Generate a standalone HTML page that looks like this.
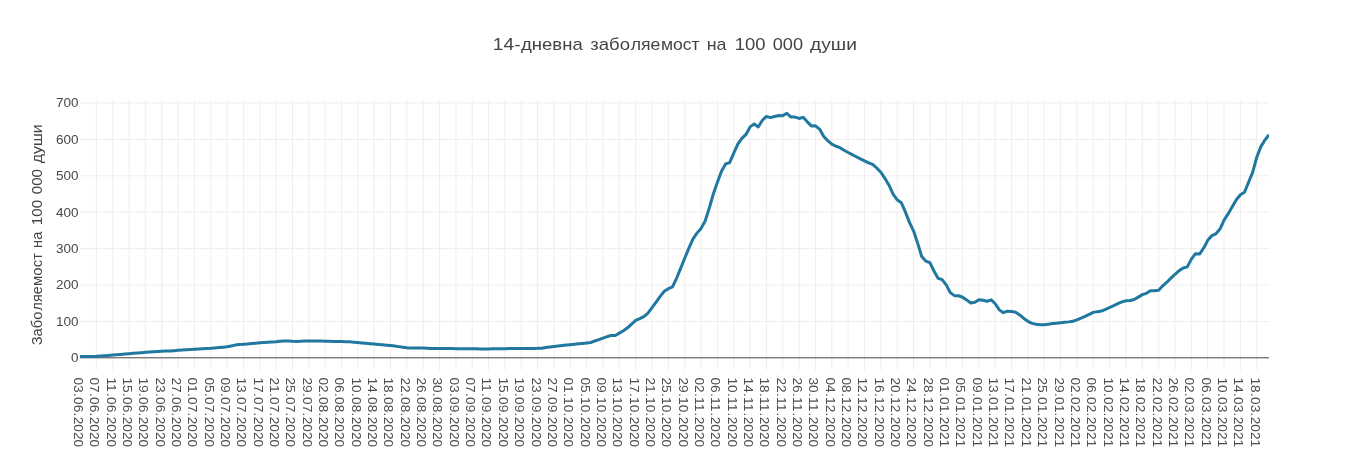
<!DOCTYPE html>
<html><head><meta charset="utf-8"><title>chart</title>
<style>
html,body{margin:0;padding:0;background:#fff;overflow:hidden}
svg{display:block;will-change:transform;transform:translateZ(0)}
text{font-family:"Liberation Sans",sans-serif;fill:#444444}
#xt text{fill:#4d4d4d}
#yt text{fill:#494949}
</style></head><body>
<svg width="1349" height="450" viewBox="0 0 1349 450">
<rect width="1349" height="450" fill="#fff"/>
<g fill="none" stroke="#eeeeee" stroke-width="1" id="grid">
<path d="M96.34,100V370M112.69,100V370M129.03,100V370M145.37,100V370M161.72,100V370M178.06,100V370M194.41,100V370M210.75,100V370M227.09,100V370M243.44,100V370M259.78,100V370M276.12,100V370M292.47,100V370M308.81,100V370M325.15,100V370M341.50,100V370M357.84,100V370M374.19,100V370M390.53,100V370M406.87,100V370M423.22,100V370M439.56,100V370M455.90,100V370M472.25,100V370M488.59,100V370M504.93,100V370M521.28,100V370M537.62,100V370M553.97,100V370M570.31,100V370M586.65,100V370M603.00,100V370M619.34,100V370M635.68,100V370M652.03,100V370M668.37,100V370M684.71,100V370M701.06,100V370M717.40,100V370M733.75,100V370M750.09,100V370M766.43,100V370M782.78,100V370M799.12,100V370M815.46,100V370M831.81,100V370M848.15,100V370M864.49,100V370M880.84,100V370M897.18,100V370M913.53,100V370M929.87,100V370M946.21,100V370M962.56,100V370M978.90,100V370M995.24,100V370M1011.59,100V370M1027.93,100V370M1044.27,100V370M1060.62,100V370M1076.96,100V370M1093.31,100V370M1109.65,100V370M1125.99,100V370M1142.34,100V370M1158.68,100V370M1175.02,100V370M1191.37,100V370M1207.71,100V370M1224.05,100V370M1240.40,100V370M1256.74,100V370"/>
<path d="M80,321.40H1269M80,285.00H1269M80,248.60H1269M80,212.20H1269M80,175.80H1269M80,139.40H1269M80,103.00H1269"/>
</g>
<path id="zero" d="M80,357.80H1269" stroke="#444444" stroke-width="1" fill="none"/>
<clipPath id="clip"><rect x="80" y="100" width="1189" height="270"/></clipPath>
<path id="curve" clip-path="url(#clip)" d="M80.00,356.60L84.09,356.53L88.17,356.45L92.26,356.38L96.34,356.31L100.43,356.02L104.52,355.71L108.60,355.41L112.69,355.10L116.77,354.75L120.86,354.40L124.95,354.05L129.03,353.70L133.12,353.35L137.20,353.00L141.29,352.64L145.37,352.30L149.46,352.04L153.55,351.78L157.63,351.53L161.72,351.28L165.80,351.12L169.89,350.95L173.98,350.63L178.06,350.30L182.15,350.05L186.23,349.79L190.32,349.54L194.41,349.29L198.49,349.04L202.58,348.80L206.66,348.55L210.75,348.30L214.84,347.92L218.92,347.54L223.01,347.17L227.09,346.78L231.18,345.95L235.26,345.11L239.35,344.56L243.44,344.29L247.52,343.92L251.61,343.55L255.69,343.19L259.78,342.82L263.87,342.56L267.95,342.30L272.04,342.05L276.12,341.78L280.21,341.23L284.30,340.90L288.38,340.93L292.47,341.30L296.55,341.41L300.64,341.20L304.73,341.00L308.81,340.90L312.90,340.90L316.98,340.90L321.07,340.96L325.15,341.21L329.24,341.34L333.33,341.40L337.41,341.46L341.50,341.55L345.58,341.70L349.67,341.84L353.76,342.17L357.84,342.51L361.93,342.91L366.01,343.30L370.10,343.70L374.19,344.09L378.27,344.44L382.36,344.79L386.44,345.14L390.53,345.49L394.62,346.05L398.70,346.62L402.79,347.19L406.87,347.75L410.96,348.01L415.04,348.02L419.13,348.04L423.22,348.05L427.30,348.32L431.39,348.51L435.47,348.53L439.56,348.56L443.65,348.59L447.73,348.61L451.82,348.62L455.90,348.63L459.99,348.65L464.08,348.66L468.16,348.67L472.25,348.69L476.33,348.73L480.42,348.89L484.51,348.89L488.59,348.88L492.68,348.87L496.76,348.86L500.85,348.83L504.93,348.72L509.02,348.61L513.11,348.58L517.19,348.55L521.28,348.53L525.36,348.51L529.45,348.46L533.54,348.40L537.62,348.34L541.71,348.16L545.79,347.57L549.88,346.99L553.97,346.43L558.05,345.99L562.14,345.55L566.22,345.11L570.31,344.67L574.40,344.22L578.48,343.77L582.57,343.39L586.65,343.07L590.74,342.52L594.82,340.97L598.91,339.56L603.00,338.07L607.08,336.60L611.17,335.53L615.25,335.45L619.34,333.11L623.43,330.68L627.51,327.77L631.60,324.03L635.68,320.42L639.77,318.58L643.86,316.60L647.94,313.13L652.03,307.66L656.11,302.14L660.20,296.37L664.29,291.28L668.37,288.66L672.46,286.83L676.54,278.28L680.63,268.31L684.71,258.29L688.80,248.39L692.89,239.13L696.97,233.13L701.06,228.40L705.14,220.98L709.23,208.27L713.32,194.00L717.40,182.37L721.49,171.17L725.57,164.00L729.66,162.66L733.75,153.06L737.83,144.01L741.92,138.44L746.00,134.44L750.09,126.87L754.18,124.07L758.26,126.92L762.35,120.24L766.43,116.41L770.52,117.64L774.60,116.45L778.69,115.45L782.78,115.65L786.86,113.27L790.95,117.10L795.03,117.06L799.12,118.44L803.21,117.36L807.29,121.84L811.38,125.93L815.46,125.85L819.55,129.11L823.64,136.19L827.72,140.66L831.81,144.21L835.89,146.25L839.98,147.71L844.07,150.27L848.15,152.49L852.24,154.67L856.32,156.75L860.41,158.83L864.49,160.92L868.58,162.89L872.67,164.38L876.75,168.00L880.84,172.21L884.92,178.34L889.01,185.16L893.10,194.07L897.18,199.80L901.27,202.72L905.35,211.92L909.44,222.34L913.53,230.81L917.61,243.10L921.70,256.51L925.78,261.02L929.87,262.71L933.96,271.02L938.04,278.21L942.13,279.59L946.21,284.87L950.30,292.58L954.38,295.66L958.47,295.77L962.56,297.22L966.64,299.91L970.73,302.93L974.81,302.26L978.90,299.85L982.99,300.20L987.07,301.22L991.16,299.81L995.24,303.71L999.33,309.88L1003.42,312.64L1007.50,311.16L1011.59,311.58L1015.67,312.20L1019.76,314.88L1023.85,318.46L1027.93,321.32L1032.02,323.41L1036.10,324.33L1040.19,324.66L1044.27,324.73L1048.36,324.15L1052.45,323.61L1056.53,323.15L1060.62,322.70L1064.70,322.28L1068.79,321.87L1072.88,321.22L1076.96,319.89L1081.05,318.15L1085.13,316.44L1089.22,314.44L1093.31,312.40L1097.39,311.64L1101.48,311.09L1105.56,309.41L1109.65,307.50L1113.74,305.59L1117.82,303.65L1121.91,301.85L1125.99,300.74L1130.08,300.53L1134.16,299.53L1138.25,297.11L1142.34,294.61L1146.42,293.35L1150.51,290.81L1154.59,290.65L1158.68,290.24L1162.77,285.79L1166.85,282.20L1170.94,278.19L1175.02,274.27L1179.11,270.71L1183.20,267.95L1187.28,266.91L1191.37,259.11L1195.45,253.65L1199.54,254.08L1203.63,248.23L1207.71,240.32L1211.80,235.70L1215.88,233.82L1219.97,229.09L1224.05,220.07L1228.14,213.95L1232.23,206.80L1236.31,199.72L1240.40,194.75L1244.48,192.24L1248.57,182.22L1252.66,172.43L1256.74,157.24L1260.83,146.64L1264.91,140.07L1269.00,134.65" fill="none" stroke="#20779f" stroke-width="3" stroke-linejoin="round" stroke-linecap="butt"/>
<g id="xt" font-size="12.4">
<text transform="translate(73.90,377.4) rotate(90) scale(1.1064,1)"><tspan x="0">03</tspan><tspan x="13.991">.</tspan><tspan x="17.742">06</tspan><tspan x="31.734">.</tspan><tspan x="35.485">2020</tspan></text>
<text transform="translate(90.24,377.4) rotate(90) scale(1.1064,1)"><tspan x="0">07</tspan><tspan x="13.991">.</tspan><tspan x="17.742">06</tspan><tspan x="31.734">.</tspan><tspan x="35.485">2020</tspan></text>
<text transform="translate(106.59,377.4) rotate(90) scale(1.1064,1)"><tspan x="0">11</tspan><tspan x="13.991">.</tspan><tspan x="17.742">06</tspan><tspan x="31.734">.</tspan><tspan x="35.485">2020</tspan></text>
<text transform="translate(122.93,377.4) rotate(90) scale(1.1064,1)"><tspan x="0">15</tspan><tspan x="13.991">.</tspan><tspan x="17.742">06</tspan><tspan x="31.734">.</tspan><tspan x="35.485">2020</tspan></text>
<text transform="translate(139.27,377.4) rotate(90) scale(1.1064,1)"><tspan x="0">19</tspan><tspan x="13.991">.</tspan><tspan x="17.742">06</tspan><tspan x="31.734">.</tspan><tspan x="35.485">2020</tspan></text>
<text transform="translate(155.62,377.4) rotate(90) scale(1.1064,1)"><tspan x="0">23</tspan><tspan x="13.991">.</tspan><tspan x="17.742">06</tspan><tspan x="31.734">.</tspan><tspan x="35.485">2020</tspan></text>
<text transform="translate(171.96,377.4) rotate(90) scale(1.1064,1)"><tspan x="0">27</tspan><tspan x="13.991">.</tspan><tspan x="17.742">06</tspan><tspan x="31.734">.</tspan><tspan x="35.485">2020</tspan></text>
<text transform="translate(188.31,377.4) rotate(90) scale(1.1064,1)"><tspan x="0">01</tspan><tspan x="13.991">.</tspan><tspan x="17.742">07</tspan><tspan x="31.734">.</tspan><tspan x="35.485">2020</tspan></text>
<text transform="translate(204.65,377.4) rotate(90) scale(1.1064,1)"><tspan x="0">05</tspan><tspan x="13.991">.</tspan><tspan x="17.742">07</tspan><tspan x="31.734">.</tspan><tspan x="35.485">2020</tspan></text>
<text transform="translate(220.99,377.4) rotate(90) scale(1.1064,1)"><tspan x="0">09</tspan><tspan x="13.991">.</tspan><tspan x="17.742">07</tspan><tspan x="31.734">.</tspan><tspan x="35.485">2020</tspan></text>
<text transform="translate(237.34,377.4) rotate(90) scale(1.1064,1)"><tspan x="0">13</tspan><tspan x="13.991">.</tspan><tspan x="17.742">07</tspan><tspan x="31.734">.</tspan><tspan x="35.485">2020</tspan></text>
<text transform="translate(253.68,377.4) rotate(90) scale(1.1064,1)"><tspan x="0">17</tspan><tspan x="13.991">.</tspan><tspan x="17.742">07</tspan><tspan x="31.734">.</tspan><tspan x="35.485">2020</tspan></text>
<text transform="translate(270.02,377.4) rotate(90) scale(1.1064,1)"><tspan x="0">21</tspan><tspan x="13.991">.</tspan><tspan x="17.742">07</tspan><tspan x="31.734">.</tspan><tspan x="35.485">2020</tspan></text>
<text transform="translate(286.37,377.4) rotate(90) scale(1.1064,1)"><tspan x="0">25</tspan><tspan x="13.991">.</tspan><tspan x="17.742">07</tspan><tspan x="31.734">.</tspan><tspan x="35.485">2020</tspan></text>
<text transform="translate(302.71,377.4) rotate(90) scale(1.1064,1)"><tspan x="0">29</tspan><tspan x="13.991">.</tspan><tspan x="17.742">07</tspan><tspan x="31.734">.</tspan><tspan x="35.485">2020</tspan></text>
<text transform="translate(319.05,377.4) rotate(90) scale(1.1064,1)"><tspan x="0">02</tspan><tspan x="13.991">.</tspan><tspan x="17.742">08</tspan><tspan x="31.734">.</tspan><tspan x="35.485">2020</tspan></text>
<text transform="translate(335.40,377.4) rotate(90) scale(1.1064,1)"><tspan x="0">06</tspan><tspan x="13.991">.</tspan><tspan x="17.742">08</tspan><tspan x="31.734">.</tspan><tspan x="35.485">2020</tspan></text>
<text transform="translate(351.74,377.4) rotate(90) scale(1.1064,1)"><tspan x="0">10</tspan><tspan x="13.991">.</tspan><tspan x="17.742">08</tspan><tspan x="31.734">.</tspan><tspan x="35.485">2020</tspan></text>
<text transform="translate(368.09,377.4) rotate(90) scale(1.1064,1)"><tspan x="0">14</tspan><tspan x="13.991">.</tspan><tspan x="17.742">08</tspan><tspan x="31.734">.</tspan><tspan x="35.485">2020</tspan></text>
<text transform="translate(384.43,377.4) rotate(90) scale(1.1064,1)"><tspan x="0">18</tspan><tspan x="13.991">.</tspan><tspan x="17.742">08</tspan><tspan x="31.734">.</tspan><tspan x="35.485">2020</tspan></text>
<text transform="translate(400.77,377.4) rotate(90) scale(1.1064,1)"><tspan x="0">22</tspan><tspan x="13.991">.</tspan><tspan x="17.742">08</tspan><tspan x="31.734">.</tspan><tspan x="35.485">2020</tspan></text>
<text transform="translate(417.12,377.4) rotate(90) scale(1.1064,1)"><tspan x="0">26</tspan><tspan x="13.991">.</tspan><tspan x="17.742">08</tspan><tspan x="31.734">.</tspan><tspan x="35.485">2020</tspan></text>
<text transform="translate(433.46,377.4) rotate(90) scale(1.1064,1)"><tspan x="0">30</tspan><tspan x="13.991">.</tspan><tspan x="17.742">08</tspan><tspan x="31.734">.</tspan><tspan x="35.485">2020</tspan></text>
<text transform="translate(449.80,377.4) rotate(90) scale(1.1064,1)"><tspan x="0">03</tspan><tspan x="13.991">.</tspan><tspan x="17.742">09</tspan><tspan x="31.734">.</tspan><tspan x="35.485">2020</tspan></text>
<text transform="translate(466.15,377.4) rotate(90) scale(1.1064,1)"><tspan x="0">07</tspan><tspan x="13.991">.</tspan><tspan x="17.742">09</tspan><tspan x="31.734">.</tspan><tspan x="35.485">2020</tspan></text>
<text transform="translate(482.49,377.4) rotate(90) scale(1.1064,1)"><tspan x="0">11</tspan><tspan x="13.991">.</tspan><tspan x="17.742">09</tspan><tspan x="31.734">.</tspan><tspan x="35.485">2020</tspan></text>
<text transform="translate(498.83,377.4) rotate(90) scale(1.1064,1)"><tspan x="0">15</tspan><tspan x="13.991">.</tspan><tspan x="17.742">09</tspan><tspan x="31.734">.</tspan><tspan x="35.485">2020</tspan></text>
<text transform="translate(515.18,377.4) rotate(90) scale(1.1064,1)"><tspan x="0">19</tspan><tspan x="13.991">.</tspan><tspan x="17.742">09</tspan><tspan x="31.734">.</tspan><tspan x="35.485">2020</tspan></text>
<text transform="translate(531.52,377.4) rotate(90) scale(1.1064,1)"><tspan x="0">23</tspan><tspan x="13.991">.</tspan><tspan x="17.742">09</tspan><tspan x="31.734">.</tspan><tspan x="35.485">2020</tspan></text>
<text transform="translate(547.87,377.4) rotate(90) scale(1.1064,1)"><tspan x="0">27</tspan><tspan x="13.991">.</tspan><tspan x="17.742">09</tspan><tspan x="31.734">.</tspan><tspan x="35.485">2020</tspan></text>
<text transform="translate(564.21,377.4) rotate(90) scale(1.1064,1)"><tspan x="0">01</tspan><tspan x="13.991">.</tspan><tspan x="17.742">10</tspan><tspan x="31.734">.</tspan><tspan x="35.485">2020</tspan></text>
<text transform="translate(580.55,377.4) rotate(90) scale(1.1064,1)"><tspan x="0">05</tspan><tspan x="13.991">.</tspan><tspan x="17.742">10</tspan><tspan x="31.734">.</tspan><tspan x="35.485">2020</tspan></text>
<text transform="translate(596.90,377.4) rotate(90) scale(1.1064,1)"><tspan x="0">09</tspan><tspan x="13.991">.</tspan><tspan x="17.742">10</tspan><tspan x="31.734">.</tspan><tspan x="35.485">2020</tspan></text>
<text transform="translate(613.24,377.4) rotate(90) scale(1.1064,1)"><tspan x="0">13</tspan><tspan x="13.991">.</tspan><tspan x="17.742">10</tspan><tspan x="31.734">.</tspan><tspan x="35.485">2020</tspan></text>
<text transform="translate(629.58,377.4) rotate(90) scale(1.1064,1)"><tspan x="0">17</tspan><tspan x="13.991">.</tspan><tspan x="17.742">10</tspan><tspan x="31.734">.</tspan><tspan x="35.485">2020</tspan></text>
<text transform="translate(645.93,377.4) rotate(90) scale(1.1064,1)"><tspan x="0">21</tspan><tspan x="13.991">.</tspan><tspan x="17.742">10</tspan><tspan x="31.734">.</tspan><tspan x="35.485">2020</tspan></text>
<text transform="translate(662.27,377.4) rotate(90) scale(1.1064,1)"><tspan x="0">25</tspan><tspan x="13.991">.</tspan><tspan x="17.742">10</tspan><tspan x="31.734">.</tspan><tspan x="35.485">2020</tspan></text>
<text transform="translate(678.61,377.4) rotate(90) scale(1.1064,1)"><tspan x="0">29</tspan><tspan x="13.991">.</tspan><tspan x="17.742">10</tspan><tspan x="31.734">.</tspan><tspan x="35.485">2020</tspan></text>
<text transform="translate(694.96,377.4) rotate(90) scale(1.1064,1)"><tspan x="0">02</tspan><tspan x="13.991">.</tspan><tspan x="17.742">11</tspan><tspan x="31.734">.</tspan><tspan x="35.485">2020</tspan></text>
<text transform="translate(711.30,377.4) rotate(90) scale(1.1064,1)"><tspan x="0">06</tspan><tspan x="13.991">.</tspan><tspan x="17.742">11</tspan><tspan x="31.734">.</tspan><tspan x="35.485">2020</tspan></text>
<text transform="translate(727.65,377.4) rotate(90) scale(1.1064,1)"><tspan x="0">10</tspan><tspan x="13.991">.</tspan><tspan x="17.742">11</tspan><tspan x="31.734">.</tspan><tspan x="35.485">2020</tspan></text>
<text transform="translate(743.99,377.4) rotate(90) scale(1.1064,1)"><tspan x="0">14</tspan><tspan x="13.991">.</tspan><tspan x="17.742">11</tspan><tspan x="31.734">.</tspan><tspan x="35.485">2020</tspan></text>
<text transform="translate(760.33,377.4) rotate(90) scale(1.1064,1)"><tspan x="0">18</tspan><tspan x="13.991">.</tspan><tspan x="17.742">11</tspan><tspan x="31.734">.</tspan><tspan x="35.485">2020</tspan></text>
<text transform="translate(776.68,377.4) rotate(90) scale(1.1064,1)"><tspan x="0">22</tspan><tspan x="13.991">.</tspan><tspan x="17.742">11</tspan><tspan x="31.734">.</tspan><tspan x="35.485">2020</tspan></text>
<text transform="translate(793.02,377.4) rotate(90) scale(1.1064,1)"><tspan x="0">26</tspan><tspan x="13.991">.</tspan><tspan x="17.742">11</tspan><tspan x="31.734">.</tspan><tspan x="35.485">2020</tspan></text>
<text transform="translate(809.36,377.4) rotate(90) scale(1.1064,1)"><tspan x="0">30</tspan><tspan x="13.991">.</tspan><tspan x="17.742">11</tspan><tspan x="31.734">.</tspan><tspan x="35.485">2020</tspan></text>
<text transform="translate(825.71,377.4) rotate(90) scale(1.1064,1)"><tspan x="0">04</tspan><tspan x="13.991">.</tspan><tspan x="17.742">12</tspan><tspan x="31.734">.</tspan><tspan x="35.485">2020</tspan></text>
<text transform="translate(842.05,377.4) rotate(90) scale(1.1064,1)"><tspan x="0">08</tspan><tspan x="13.991">.</tspan><tspan x="17.742">12</tspan><tspan x="31.734">.</tspan><tspan x="35.485">2020</tspan></text>
<text transform="translate(858.39,377.4) rotate(90) scale(1.1064,1)"><tspan x="0">12</tspan><tspan x="13.991">.</tspan><tspan x="17.742">12</tspan><tspan x="31.734">.</tspan><tspan x="35.485">2020</tspan></text>
<text transform="translate(874.74,377.4) rotate(90) scale(1.1064,1)"><tspan x="0">16</tspan><tspan x="13.991">.</tspan><tspan x="17.742">12</tspan><tspan x="31.734">.</tspan><tspan x="35.485">2020</tspan></text>
<text transform="translate(891.08,377.4) rotate(90) scale(1.1064,1)"><tspan x="0">20</tspan><tspan x="13.991">.</tspan><tspan x="17.742">12</tspan><tspan x="31.734">.</tspan><tspan x="35.485">2020</tspan></text>
<text transform="translate(907.43,377.4) rotate(90) scale(1.1064,1)"><tspan x="0">24</tspan><tspan x="13.991">.</tspan><tspan x="17.742">12</tspan><tspan x="31.734">.</tspan><tspan x="35.485">2020</tspan></text>
<text transform="translate(923.77,377.4) rotate(90) scale(1.1064,1)"><tspan x="0">28</tspan><tspan x="13.991">.</tspan><tspan x="17.742">12</tspan><tspan x="31.734">.</tspan><tspan x="35.485">2020</tspan></text>
<text transform="translate(940.11,377.4) rotate(90) scale(1.1064,1)"><tspan x="0">01</tspan><tspan x="13.991">.</tspan><tspan x="17.742">01</tspan><tspan x="31.734">.</tspan><tspan x="35.485">2021</tspan></text>
<text transform="translate(956.46,377.4) rotate(90) scale(1.1064,1)"><tspan x="0">05</tspan><tspan x="13.991">.</tspan><tspan x="17.742">01</tspan><tspan x="31.734">.</tspan><tspan x="35.485">2021</tspan></text>
<text transform="translate(972.80,377.4) rotate(90) scale(1.1064,1)"><tspan x="0">09</tspan><tspan x="13.991">.</tspan><tspan x="17.742">01</tspan><tspan x="31.734">.</tspan><tspan x="35.485">2021</tspan></text>
<text transform="translate(989.14,377.4) rotate(90) scale(1.1064,1)"><tspan x="0">13</tspan><tspan x="13.991">.</tspan><tspan x="17.742">01</tspan><tspan x="31.734">.</tspan><tspan x="35.485">2021</tspan></text>
<text transform="translate(1005.49,377.4) rotate(90) scale(1.1064,1)"><tspan x="0">17</tspan><tspan x="13.991">.</tspan><tspan x="17.742">01</tspan><tspan x="31.734">.</tspan><tspan x="35.485">2021</tspan></text>
<text transform="translate(1021.83,377.4) rotate(90) scale(1.1064,1)"><tspan x="0">21</tspan><tspan x="13.991">.</tspan><tspan x="17.742">01</tspan><tspan x="31.734">.</tspan><tspan x="35.485">2021</tspan></text>
<text transform="translate(1038.17,377.4) rotate(90) scale(1.1064,1)"><tspan x="0">25</tspan><tspan x="13.991">.</tspan><tspan x="17.742">01</tspan><tspan x="31.734">.</tspan><tspan x="35.485">2021</tspan></text>
<text transform="translate(1054.52,377.4) rotate(90) scale(1.1064,1)"><tspan x="0">29</tspan><tspan x="13.991">.</tspan><tspan x="17.742">01</tspan><tspan x="31.734">.</tspan><tspan x="35.485">2021</tspan></text>
<text transform="translate(1070.86,377.4) rotate(90) scale(1.1064,1)"><tspan x="0">02</tspan><tspan x="13.991">.</tspan><tspan x="17.742">02</tspan><tspan x="31.734">.</tspan><tspan x="35.485">2021</tspan></text>
<text transform="translate(1087.21,377.4) rotate(90) scale(1.1064,1)"><tspan x="0">06</tspan><tspan x="13.991">.</tspan><tspan x="17.742">02</tspan><tspan x="31.734">.</tspan><tspan x="35.485">2021</tspan></text>
<text transform="translate(1103.55,377.4) rotate(90) scale(1.1064,1)"><tspan x="0">10</tspan><tspan x="13.991">.</tspan><tspan x="17.742">02</tspan><tspan x="31.734">.</tspan><tspan x="35.485">2021</tspan></text>
<text transform="translate(1119.89,377.4) rotate(90) scale(1.1064,1)"><tspan x="0">14</tspan><tspan x="13.991">.</tspan><tspan x="17.742">02</tspan><tspan x="31.734">.</tspan><tspan x="35.485">2021</tspan></text>
<text transform="translate(1136.24,377.4) rotate(90) scale(1.1064,1)"><tspan x="0">18</tspan><tspan x="13.991">.</tspan><tspan x="17.742">02</tspan><tspan x="31.734">.</tspan><tspan x="35.485">2021</tspan></text>
<text transform="translate(1152.58,377.4) rotate(90) scale(1.1064,1)"><tspan x="0">22</tspan><tspan x="13.991">.</tspan><tspan x="17.742">02</tspan><tspan x="31.734">.</tspan><tspan x="35.485">2021</tspan></text>
<text transform="translate(1168.92,377.4) rotate(90) scale(1.1064,1)"><tspan x="0">26</tspan><tspan x="13.991">.</tspan><tspan x="17.742">02</tspan><tspan x="31.734">.</tspan><tspan x="35.485">2021</tspan></text>
<text transform="translate(1185.27,377.4) rotate(90) scale(1.1064,1)"><tspan x="0">02</tspan><tspan x="13.991">.</tspan><tspan x="17.742">03</tspan><tspan x="31.734">.</tspan><tspan x="35.485">2021</tspan></text>
<text transform="translate(1201.61,377.4) rotate(90) scale(1.1064,1)"><tspan x="0">06</tspan><tspan x="13.991">.</tspan><tspan x="17.742">03</tspan><tspan x="31.734">.</tspan><tspan x="35.485">2021</tspan></text>
<text transform="translate(1217.95,377.4) rotate(90) scale(1.1064,1)"><tspan x="0">10</tspan><tspan x="13.991">.</tspan><tspan x="17.742">03</tspan><tspan x="31.734">.</tspan><tspan x="35.485">2021</tspan></text>
<text transform="translate(1234.30,377.4) rotate(90) scale(1.1064,1)"><tspan x="0">14</tspan><tspan x="13.991">.</tspan><tspan x="17.742">03</tspan><tspan x="31.734">.</tspan><tspan x="35.485">2021</tspan></text>
<text transform="translate(1250.64,377.4) rotate(90) scale(1.1064,1)"><tspan x="0">18</tspan><tspan x="13.991">.</tspan><tspan x="17.742">03</tspan><tspan x="31.734">.</tspan><tspan x="35.485">2021</tspan></text>
</g>
<g id="yt" font-size="12.4">
<text text-anchor="end" transform="translate(78.6,362.20) scale(1.09,1)">0</text>
<text text-anchor="end" transform="translate(78.6,325.80) scale(1.09,1)">100</text>
<text text-anchor="end" transform="translate(78.6,289.40) scale(1.09,1)">200</text>
<text text-anchor="end" transform="translate(78.6,253.00) scale(1.09,1)">300</text>
<text text-anchor="end" transform="translate(78.6,216.60) scale(1.09,1)">400</text>
<text text-anchor="end" transform="translate(78.6,180.20) scale(1.09,1)">500</text>
<text text-anchor="end" transform="translate(78.6,143.80) scale(1.09,1)">600</text>
<text text-anchor="end" transform="translate(78.6,107.40) scale(1.09,1)">700</text>
</g>
<g id="ya" font-size="14.5">
<text transform="translate(42.0,345.34) rotate(-90) scale(1.0145,1)">Забо</text>
<text transform="translate(42.0,310.40) rotate(-90) scale(0.9852,1)">ляе</text>
<text transform="translate(42.0,286.00) rotate(-90) scale(1.0343,1)">мост</text>
<text transform="translate(42.0,247.98) rotate(-90) scale(1.0159,1)">на</text>
<text transform="translate(42.0,225.16) rotate(-90) scale(1.0462,1)">100</text>
<text transform="translate(42.0,194.15) rotate(-90) scale(1.0373,1)">000</text>
<text transform="translate(42.0,163.30) rotate(-90) scale(1.0973,1)">души</text>
</g>
<g id="title" font-size="17.4">
<text transform="translate(492.85,49.9) scale(1.1043,1)">14-</text>
<text transform="translate(521.00,49.9) scale(1.0666,1)">дневна</text>
<text transform="translate(590.33,49.9) scale(1.0628,1)">забо</text>
<text transform="translate(630.70,49.9) scale(1.0132,1)">ляе</text>
<text transform="translate(660.95,49.9) scale(1.0074,1)">мост</text>
<text transform="translate(706.73,49.9) scale(1.0268,1)">на</text>
<text transform="translate(734.71,49.9) scale(1.0631,1)">100</text>
<text transform="translate(772.76,49.9) scale(1.0438,1)">000</text>
<text transform="translate(810.10,49.9) scale(1.1007,1)">души</text>
</g>
</svg>
</body></html>
